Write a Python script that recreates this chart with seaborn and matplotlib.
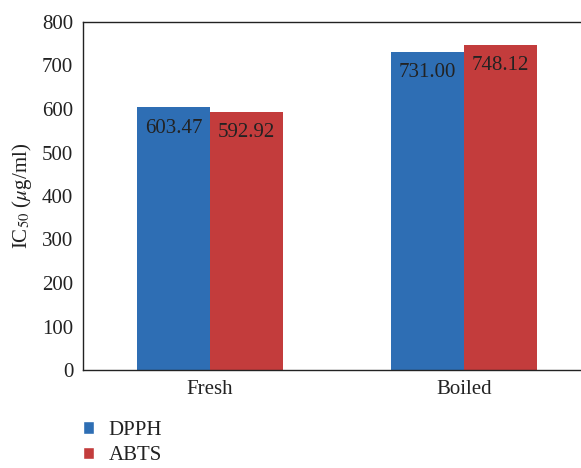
import pandas as pd
import numpy as np
import matplotlib
matplotlib.use("Agg")
import matplotlib.pyplot as plt
import seaborn as sns
from matplotlib.patches import Patch

# Data
samples = ["Fresh", "Boiled"]
assays = ["DPPH", "ABTS"]
dpph = [603.47, 731.00]
abts = [592.92, 748.12]
colors = ["#2E6EB4", "#C33C3C"]

df = pd.DataFrame({
    "sample": samples * 2,
    "assay": ["DPPH"] * 2 + ["ABTS"] * 2,
    "value": dpph + abts,
})

sns.set_theme(style="white")
plt.rcParams["font.family"] = ["Liberation Serif", "DejaVu Serif"]
plt.rcParams["mathtext.fontset"] = "stix"

fs = 15
fig = plt.figure(figsize=(5.81, 4.68), dpi=100)
ax = fig.add_axes([83 / 581, 1 - 370 / 468, 498 / 581, 348 / 468])

sns.barplot(data=df, x="sample", y="value", hue="assay", order=samples,
            hue_order=assays, palette=colors, saturation=1, width=0.575,
            linewidth=0, ax=ax, legend=False)

# value labels inside bar tops
for cont in ax.containers:
    for bar in cont:
        h = bar.get_height()
        ax.annotate(f"{h:.2f}", (bar.get_x() + bar.get_width() / 2, h),
                    xytext=(0, -15), textcoords="offset points",
                    ha="center", va="center", fontsize=fs, color="#222222")

ax.set_ylim(0, 800)
ax.set_yticks(np.arange(0, 801, 100))
ax.set_xlim(-0.5, 1.46)
ax.set_xlabel("")
ax.set_ylabel(r"IC$_{50}$ ($\mu$g/ml)", fontsize=fs, color="#222222", labelpad=6)
ax.tick_params(axis="both", length=0, labelsize=fs, colors="#222222")
ax.tick_params(axis="y", pad=7)
ax.tick_params(axis="x", pad=7)
for s in ["left", "bottom", "top"]:
    ax.spines[s].set_color("#222222")
    ax.spines[s].set_linewidth(1.0)
ax.spines["right"].set_visible(False)

handles = [Patch(facecolor=c, label=a) for c, a in zip(colors, assays)]
fig.legend(handles=handles, loc="upper left", bbox_to_anchor=(0.128, 0.118),
           frameon=False, fontsize=fs, handlelength=0.55, handleheight=0.55,
           handletextpad=0.7, labelspacing=0.3, borderaxespad=0,
           labelcolor="#222222")

fig.savefig("out.png", dpi=100)
